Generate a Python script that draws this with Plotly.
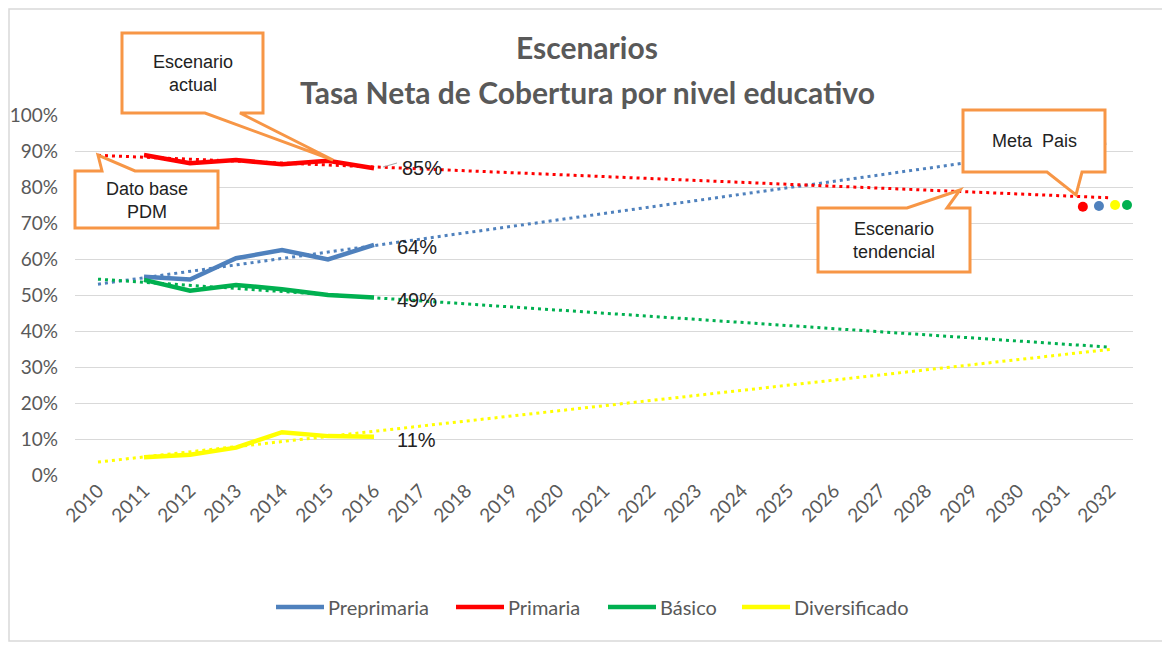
import plotly.graph_objects as go

# ---------------- data ----------------
years = list(range(2010, 2033))
year_labels = [str(y) for y in years]
hist_years = [2011, 2012, 2013, 2014, 2015, 2016]

series_names = ["Preprimaria", "Primaria", "Básico", "Diversificado"]
preprimaria = [0.551, 0.543, 0.602, 0.625, 0.599, 0.639]
primaria = [0.889, 0.866, 0.875, 0.863, 0.873, 0.852]
basico = [0.542, 0.512, 0.528, 0.516, 0.500, 0.493]
diversificado = [0.049, 0.056, 0.076, 0.119, 0.108, 0.106]

# linear trend (Escenario tendencial) read at 2010 and 2032
trend_years = [2010, 2032]
trend_pre = [0.530, 0.923]
trend_prim = [0.888, 0.770]
trend_bas = [0.544, 0.355]
trend_div = [0.036, 0.349]

# Meta País values (2032)
meta_names = ["Primaria", "Preprimaria", "Diversificado", "Básico"]
meta_values = [0.745, 0.747, 0.750, 0.750]

# ---------------- style ----------------
colors = {"Preprimaria": "#4F81BD", "Primaria": "#FF0000",
          "Básico": "#00B050", "Diversificado": "#FFFF00"}
ORANGE = "#F79646"
GRAY = "#595959"
TICKFONT = "Lato, Open Sans"

# page body has an 8px margin: figure is placed at (8, 8) on screen
SHIFT = 8
W, H = 1170 - SHIFT, 645 - SHIFT
# plot area on screen: x 75..1133, y 115..475
PL, PR, PT, PB = 75, 1133, 115, 475
PW, PH = PR - PL, PB - PT
L, T = PL - SHIFT, PT - SHIFT
R, B = W - (PR - SHIFT), H - (PB - SHIFT)


def px(x):
    return (x - PL) / PW


def py(y):
    return (PB - y) / PH


fig = go.Figure()

hist = {"Preprimaria": preprimaria, "Primaria": primaria,
        "Básico": basico, "Diversificado": diversificado}
trend = {"Preprimaria": trend_pre, "Primaria": trend_prim,
         "Básico": trend_bas, "Diversificado": trend_div}

# trend lines first (behind)
for name in series_names:
    fig.add_trace(go.Scatter(
        x=trend_years, y=trend[name], mode="lines",
        line=dict(color=colors[name], width=3, dash="3px,4px"),
        showlegend=False, hoverinfo="skip"))

for name in series_names:
    fig.add_trace(go.Scatter(
        x=hist_years, y=hist[name], mode="lines", name=name,
        line=dict(color=colors[name], width=4.5), showlegend=False))

# meta país dots
meta_offsets = [-0.59, -0.24, 0.11, 0.37]
for name, v, off in zip(meta_names, meta_values, meta_offsets):
    fig.add_trace(go.Scatter(
        x=[2032 + off], y=[v], mode="markers",
        marker=dict(color=colors[name], size=10, symbol="circle"),
        showlegend=False, hoverinfo="skip"))

# end labels
label_shift = {"Primaria": (26, 0), "Preprimaria": (21, -2),
               "Básico": (21, -2), "Diversificado": (21, -3)}
for name in ["Primaria", "Preprimaria", "Básico", "Diversificado"]:
    v = hist[name][-1]
    fig.add_annotation(
        x=hist_years[-1], y=v, text=f"{v:.0%}", showarrow=False,
        xanchor="left", yanchor="middle",
        xshift=label_shift[name][0], yshift=label_shift[name][1],
        font=dict(family="Liberation Sans, Arial", size=20, color="#222222"))

shapes = []
# leader line for 85%
shapes.append(dict(type="line", xref="paper", yref="paper",
                   x0=px(383), y0=py(167), x1=px(397), y1=py(163),
                   line=dict(color="#A6A6A6", width=1)))


def callout(pts, text, tx, ty):
    path = "M " + " L ".join(f"{px(a):.5f},{py(b):.5f}" for a, b in pts) + " Z"
    shapes.append(dict(type="path", xref="paper", yref="paper", path=path,
                       line=dict(color=ORANGE, width=3), fillcolor="white",
                       layer="above"))
    fig.add_annotation(xref="paper", yref="paper", x=px(tx), y=py(ty),
                       text=text, showarrow=False, xanchor="center",
                       yanchor="middle",
                       font=dict(family="Liberation Sans Narrow, Liberation Sans, Arial",
                                 size=18, color="#222222"))


callout([(122, 33), (263, 33), (263, 113), (240, 113), (333, 160),
         (205, 113), (122, 113)], "Escenario<br>actual", 193, 74)
callout([(75, 171), (102, 171), (98, 155), (135, 171), (218, 171),
         (218, 228), (75, 228)], "Dato base<br>PDM", 147, 200)
callout([(963, 110), (1105, 110), (1105, 172), (1082, 172), (1076, 195),
         (1047, 172), (963, 172)], "Meta  Pais", 1034, 141)
callout([(818, 208), (907, 208), (960, 190), (947, 208), (970, 208),
         (970, 272), (818, 272)], "Escenario<br>tendencial", 894, 240)

# custom legend (line sample + label)
legend_line_x = [276, 456, 608, 742]
legend_y = 607
for name, lx in zip(series_names, legend_line_x):
    shapes.append(dict(type="line", xref="paper", yref="paper",
                       x0=px(lx), x1=px(lx + 48), y0=py(legend_y), y1=py(legend_y),
                       line=dict(color=colors[name], width=4.5)))
    fig.add_annotation(xref="paper", yref="paper", x=px(lx + 50), y=py(legend_y),
                       text=name, showarrow=False, xanchor="left", yanchor="middle",
                       font=dict(family=TICKFONT, size=20, color=GRAY))

# outer border
shapes.append(dict(type="rect", xref="paper", yref="paper",
                   x0=px(9), y0=py(641), x1=px(1165), y1=py(9),
                   line=dict(color="#D9D9D9", width=1.5), fillcolor="rgba(0,0,0,0)",
                   layer="below"))

# title
fig.add_annotation(xref="paper", yref="paper", x=px(587), y=py(47),
                   text="<b>Escenarios</b>", showarrow=False,
                   xanchor="center", yanchor="middle",
                   font=dict(family="Lato, Open Sans", size=30, color=GRAY))
fig.add_annotation(xref="paper", yref="paper", x=px(587), y=py(92),
                   text="<b>Tasa Neta de Cobertura por nivel educativo</b>",
                   showarrow=False, xanchor="center", yanchor="middle",
                   font=dict(family="Lato, Open Sans", size=30, color=GRAY))

fig.update_layout(
    width=W, height=H,
    margin=dict(l=L, r=R, t=T, b=B, autoexpand=False),
    paper_bgcolor="white", plot_bgcolor="white",
    shapes=shapes,
    showlegend=False,
    xaxis=dict(range=[2009.5, 2032.5], tickmode="array", tickvals=years,
               ticktext=year_labels, tickangle=-45, showgrid=False,
               zeroline=False, showline=False, ticks="",
               tickfont=dict(family=TICKFONT, size=19, color=GRAY),
               automargin=False),
    yaxis=dict(range=[0, 1.0], dtick=0.1, tickformat=".0%",
               showgrid=True, gridcolor="#D9D9D9", gridwidth=1.3,
               zeroline=False, showline=False, ticks="",
               ticklabelstandoff=16,
               tickfont=dict(family=TICKFONT, size=19, color=GRAY),
               automargin=False),
)

fig.write_html("out.html")
